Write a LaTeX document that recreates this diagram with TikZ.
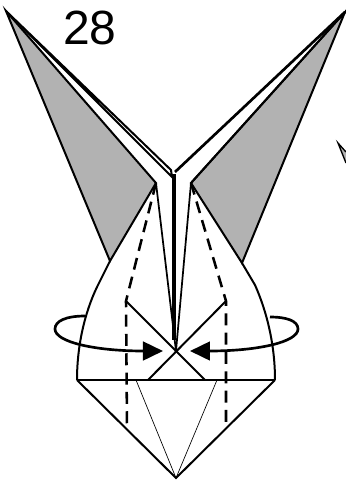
\documentclass[tikz,border=0pt]{standalone}
\usepackage{fontspec}
\setmainfont{Liberation Sans}
\usetikzlibrary{arrows.meta}
\definecolor{eargray}{gray}{0.7}
\tikzset{
  fold/.style={draw, line width=1.5pt, line join=miter},
  crease/.style={draw, line width=0.5pt},
  valley/.style={draw, line width=1.9pt, dash pattern=on 9pt off 5.5pt},
  turn/.style={draw, line width=2pt, -{Triangle[length=15pt,width=14pt]}},
  ear/.style={fold, fill=eargray},
  steplabel/.style={font=\fontsize{36}{36}\selectfont, inner sep=0pt}
}
\begin{document}
\begin{tikzpicture}[x=0.75pt, y=-0.75pt]
\useasboundingbox (0,0) rectangle (346,480);
% outline points
\coordinate (ltip) at (6,11);
\coordinate (rtip) at (345,12);
\coordinate (lcorner) at (156,183);
\coordinate (rcorner) at (191,183);
\coordinate (lear) at (110,261);
\coordinate (rear) at (242,263);
\coordinate (center) at (176,351);
\coordinate (lbase) at (77,380);
\coordinate (rbase) at (275,380);
\coordinate (bottom) at (176,478);
\coordinate (lknee) at (126,301);
\coordinate (rknee) at (226,301);
% ears
\path[ear] (ltip) -- (lcorner) -- (lear) -- cycle;
\path[ear] (rtip) -- (rcorner) -- (rear) -- cycle;
% upper flaps
\draw[fold] (ltip) -- (171,170) -- (172,177) -- (ltip);
\draw[fold, line width=2pt] (rtip) -- (175,172);
\draw[fold] (rtip) -- (rcorner);
\draw[fold, line width=3pt] (174,174) -- (174,340);
\draw[fold, line width=1.3pt] (lcorner) -- (center);
\draw[fold, line width=1.3pt] (rcorner) -- (center);
% body
\draw[fold] (lear) -- (97,287) .. controls (85,312) and (77,345) .. (lbase);
\draw[fold] (rear) -- (255,285) .. controls (267,312) and (275,345) .. (rbase);
\draw[fold] (lbase) -- (rbase);
\draw[fold] (lbase) -- (bottom) -- (rbase);
\draw[crease] (136,380) -- (bottom) -- (217,380);
\draw[fold] (lknee) -- (205,380);
\draw[fold] (rknee) -- (148,380);
% valley folds
\draw[valley] (lcorner) -- (lknee) -- (127,428);
\draw[valley] (rcorner) -- (rknee) -- (226,428);
% turn over arrows
\draw[turn] (85,316) .. controls (66,316) and (55,321) .. (55,329)
  .. controls (55,342) and (95,351) .. (163,351);
\draw[turn] (270,317) .. controls (287,317) and (298,321) .. (298,329)
  .. controls (298,342) and (258,351) .. (190,351);
% next step peeking in
\path[ear, line width=1pt] (346,152) -- (338,143) -- (346,163);
\node[steplabel] (steptitle) at (90,28) {28};
\end{tikzpicture}
\end{document}
